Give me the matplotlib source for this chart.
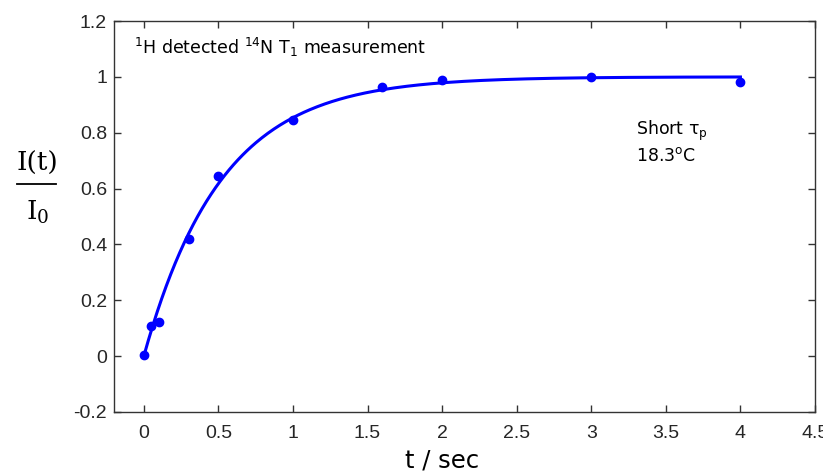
import numpy as np
import matplotlib
matplotlib.use('Agg')
import matplotlib.pyplot as plt
from matplotlib.lines import Line2D

t_data = [0.0, 0.05, 0.1, 0.3, 0.5, 1.0, 1.6, 2.0, 3.0, 4.0]
i_data = [0.005, 0.107, 0.122, 0.42, 0.645, 0.845, 0.963, 0.988, 1.0, 0.982]

# fitted recovery curve I/I0 = A (1 - exp(-t / T1)), parameters
fit_amp = 1.0
fit_t1 = 0.52
fit_t_max = 4.0

x_ticks = [0, 0.5, 1, 1.5, 2, 2.5, 3, 3.5, 4, 4.5]
y_ticks = [-0.2, 0, 0.2, 0.4, 0.6, 0.8, 1.0, 1.2]
x_tick_labels = ['0', '0.5', '1', '1.5', '2', '2.5', '3', '3.5', '4', '4.5']
y_tick_labels = ['-0.2', '0', '0.2', '0.4', '0.6', '0.8', '1', '1.2']

fig = plt.figure(figsize=(8.23, 4.76), dpi=100)
ax = fig.add_axes([114 / 823, 1 - 412 / 476, (815 - 114) / 823, (412 - 21) / 476])

t_fit = np.linspace(0, fit_t_max, 400)
i_fit = fit_amp * (1 - np.exp(-t_fit / fit_t1))
ax.plot(t_fit, i_fit, color='#0000ff', lw=2.2, zorder=2)
ax.plot(t_data, i_data, 'o', color='#0000ff', ms=6, zorder=3)

ax.set_xlim(-0.2, 4.5)
ax.set_ylim(-0.2, 1.2)
ax.set_xticks(x_ticks)
ax.set_xticklabels(x_tick_labels)
ax.set_yticks(y_ticks)
ax.set_yticklabels(y_tick_labels)
ax.tick_params(direction='in', top=True, right=True, length=5, width=1,
               color='#333333', labelcolor='#262626', labelsize=14,
               labelfontfamily='Liberation Sans')
ax.tick_params(axis='x', pad=9)
ax.tick_params(axis='y', pad=5)
for s in ax.spines.values():
    s.set_color('#333333')
    s.set_linewidth(1)

ax.text(0.028, 0.933, r'$^{1}$H detected $^{14}$N T$_{1}$ measurement',
        transform=ax.transAxes, fontsize=12.5, family='DejaVu Sans',
        va='center', ha='left')
ax.text(0.745, 0.72, r'Short $\mathregular{\tau_p}$', transform=ax.transAxes,
        fontsize=12.5, family='DejaVu Sans', va='center', ha='left')
ax.text(0.745, 0.655, r'18.3$^{\mathregular{o}}$C', transform=ax.transAxes,
        fontsize=12.5, family='DejaVu Sans', va='center', ha='left')

# x label
fig.text(442 / 823, 1 - 461 / 476, 't / sec', fontsize=17.5, family='DejaVu Sans',
         ha='center', va='center')

# y label drawn as a fraction I(t) / I0
fig.text(37 / 823, 1 - 163 / 476, 'I(t)', fontsize=19, family='DejaVu Serif',
         ha='center', va='center')
fig.text(38 / 823, 1 - 212 / 476, r'I$_\mathregular{0}$', fontsize=19,
         family='DejaVu Serif', ha='center', va='center')
fig.add_artist(Line2D([17 / 823, 56 / 823], [1 - 184 / 476, 1 - 184 / 476],
                      transform=fig.transFigure, color='black', lw=1.3))

fig.savefig('out.png', dpi=100)
